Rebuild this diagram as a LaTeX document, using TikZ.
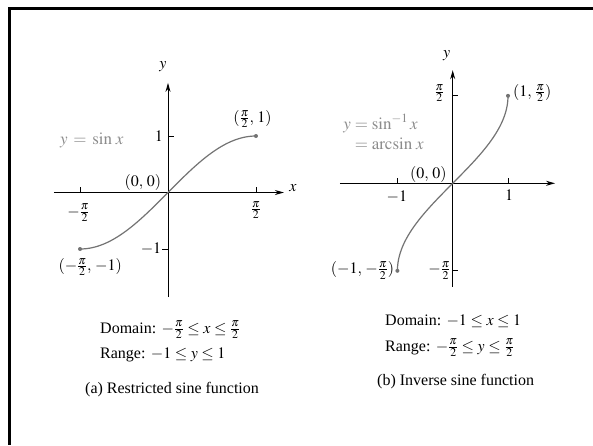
\documentclass[tikz,border=0pt]{standalone}
\usepackage{mathptmx}
\usepackage[no-math]{fontspec}
\setmainfont{Liberation Serif}
\usetikzlibrary{arrows.meta}
\begin{document}
\begin{tikzpicture}[x=1pt,y=-1pt,
  axis/.style={line width=0.9pt, -{Stealth[length=9pt,width=5pt]}},
  curve/.style={line width=1.2pt, draw=black!55},
  tickline/.style={line width=0.8pt},
  enddot/.style={circle, fill=black!55, inner sep=0pt, minimum size=4pt},
  lbl/.style={font=\fontsize{16}{19}\selectfont, inner sep=1pt},
  glbl/.style={lbl, font=\fontsize{17}{20}\selectfont, text=black!45},
  captext/.style={font=\fontsize{16}{19}\selectfont, inner sep=0pt, anchor=base west}]
\useasboundingbox (0,0) rectangle (593,445);
\fill[white] (0,0) rectangle (593,445);
% frame (cropped at right and bottom)
\coordinate (fTL) at (9,8);
\coordinate (fTR) at (593,8);
\coordinate (fBL) at (9,445);
\draw[line width=3pt, line join=miter] (fTR) -- (fTL) -- (fBL);

% ---------- (a) restricted sine ----------
\begin{scope}[shift={(168,192.5)}, x=56pt, y=56.5pt]
  \coordinate (aXL) at (-2.04,0);
  \coordinate (aXR) at (2.07,0);
  \coordinate (aYB) at (0,-1.85);
  \coordinate (aYT) at (0,1.94);
  \draw[axis] (aXL) -- (aXR);
  \draw[axis] (aYB) -- (aYT);
  \node[lbl] (aXlab) at (2.23,0.08) {$x$};
  \node[lbl] (aYlab) at (-0.09,2.22) {$y$};
  % ticks
  \coordinate (aT1a) at (-1.5708,0); \coordinate (aT1b) at (-1.5708,0.1);
  \coordinate (aT2a) at (1.5708,0);  \coordinate (aT2b) at (1.5708,0.1);
  \coordinate (aT3a) at (0,1);       \coordinate (aT3b) at (0.1,1);
  \coordinate (aT4a) at (0,-1);      \coordinate (aT4b) at (-0.1,-1);
  \draw[tickline] (aT1a) -- (aT1b) (aT2a) -- (aT2b) (aT3a) -- (aT3b) (aT4a) -- (aT4b);
  % curve
  \draw[curve] plot[domain=-pi/2:pi/2, samples=60, smooth] (\x, {sin(\x r)});
  \node[enddot] (aP1) at (-1.5708,-1) {};
  \node[enddot] (aP2) at (1.5708,1) {};
  % labels
  \node[lbl, anchor=east] (aOne) at (-0.07,1) {$1$};
  \node[lbl, anchor=east] (aMOne) at (-0.1,-1) {$-1$};
  \node[lbl] (aO) at (-0.45,0.17) {$(0,\,0)$};
  \node[lbl] (aMPi) at (-1.60,-0.36) {$-\frac{\pi}{2}$};
  \node[lbl] (aPi) at (1.57,-0.31) {$\frac{\pi}{2}$};
  \node[lbl] (aP2lab) at (1.51,1.30) {$(\frac{\pi}{2},\,1)$};
  \node[lbl] (aP1lab) at (-1.39,-1.32) {$(-\frac{\pi}{2},\,-1)$};
  \node[glbl] (aFn) at (-1.36,0.93) {$y\,=\,\sin\,x$};
\end{scope}

% ---------- (b) inverse sine ----------
\begin{scope}[shift={(452.7,183.3)}, x=55.3pt, y=55.7pt]
  \coordinate (bXL) at (-2.04,0);
  \coordinate (bXR) at (1.85,0);
  \coordinate (bYB) at (0,-1.86);
  \coordinate (bYT) at (0,2.03);
  \draw[axis] (bXL) -- (bXR);
  \draw[axis] (bYB) -- (bYT);
  \node[lbl] (bYlab) at (-0.11,2.30) {$y$};
  % ticks
  \coordinate (bT1a) at (-1,0); \coordinate (bT1b) at (-1,0.1);
  \coordinate (bT2a) at (1,0);  \coordinate (bT2b) at (1,0.1);
  \coordinate (bT3a) at (0,1.5708); \coordinate (bT3b) at (0.1,1.5708);
  \coordinate (bT4a) at (0,-1.5708); \coordinate (bT4b) at (0.1,-1.5708);
  \draw[tickline] (bT1a) -- (bT1b) (bT2a) -- (bT2b) (bT3a) -- (bT3b) (bT4a) -- (bT4b);
  % curve
  \draw[curve] plot[domain=-pi/2:pi/2, samples=60, smooth] ({sin(\x r)}, \x);
  \node[enddot] (bP1) at (-1,-1.5708) {};
  \node[enddot] (bP2) at (1,1.5708) {};
  % labels
  \node[lbl] (bPi) at (-0.24,1.62) {$\frac{\pi}{2}$};
  \node[lbl] (bMPi) at (-0.24,-1.56) {$-\frac{\pi}{2}$};
  \node[lbl, anchor=west] (bP2lab) at (1.07,1.62) {$(1,\,\frac{\pi}{2})$};
  \node[lbl, anchor=east] (bP1lab) at (-1.04,-1.56) {$(-1,\,-\frac{\pi}{2})$};
  \node[lbl] (bO) at (-0.44,0.15) {$(0,\,0)$};
  \node[lbl] (bMOne) at (-1.01,-0.24) {$-1$};
  \node[lbl] (bOne) at (1.02,-0.22) {$1$};
  \node[glbl, align=left] (bFn) at (-1.25,0.87)
    {\begin{tabular}{@{}r@{}l@{}}$y$ & ${}=\sin^{-1}x$\\ & ${}=\arcsin\,x$\end{tabular}};
\end{scope}

% ---------- captions ----------
\node[captext] (aDom) at (100,333) {Domain: $-\frac{\pi}{2}\le x\le\frac{\pi}{2}$};
\node[captext] (aRan) at (100,358) {Range: $-1\le y\le 1$};
\node[captext] (aCap) at (85,393) {(a) Restricted sine function};
\node[captext] (bDom) at (385,325) {Domain: $-1\le x\le 1$};
\node[captext] (bRan) at (385,351) {Range: $-\frac{\pi}{2}\le y\le\frac{\pi}{2}$};
\node[captext] (bCap) at (377,385) {(b) Inverse sine function};
\end{tikzpicture}
\end{document}
